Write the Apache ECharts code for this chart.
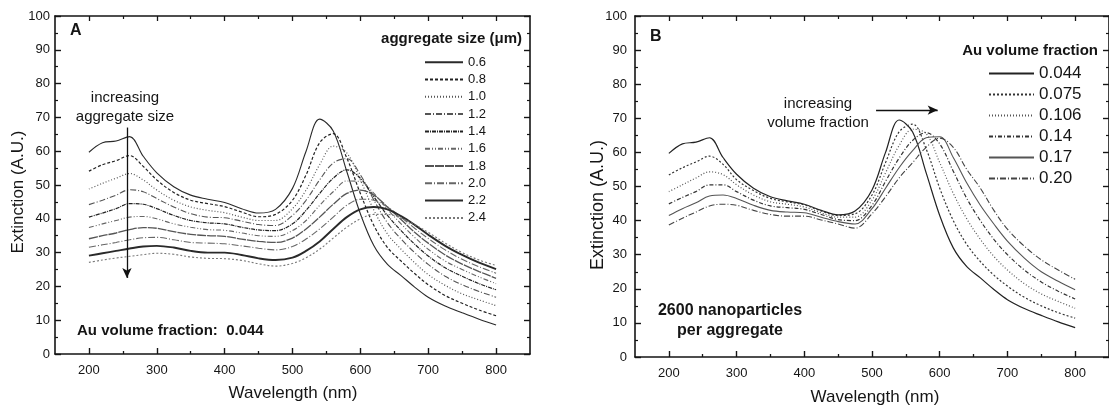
<!DOCTYPE html>
<html>
<head>
<meta charset="utf-8">
<script src="https://cdn.jsdelivr.net/npm/echarts@6/dist/echarts.min.js"></script>
<style>
html,body{margin:0;padding:0;background:#fff;}
#chart{width:1109px;height:405px;}
</style>
</head>
<body>
<div id="chart"></div>
<script>
// ---------- DATA ----------
const wavelength = [200,220,240,260,280,300,325,350,375,400,425,450,475,500,520,540,560,580,600,620,640,660,680,700,725,750,775,800];

// Panel A: aggregate size (um), Au volume fraction 0.044
const namesA = ['0.6','0.8','1.0','1.2','1.4','1.6','1.8','2.0','2.2','2.4'];
const a06 = [59.7,62.5,63.0,64.3,58.5,53.6,49.5,47.0,45.8,44.8,43.0,41.7,42.8,49.0,60.0,69.5,66.0,54.0,41.5,32.0,26.5,23.2,19.8,16.8,14.2,12.2,10.3,8.6];
const a08 = [54.1,56.0,57.2,58.7,55.5,51.5,47.8,45.5,44.5,43.6,42.0,40.6,41.3,45.5,53.0,62.5,65.2,58.0,47.5,38.0,31.5,27.5,23.8,20.5,17.3,15.0,13.0,11.3];
const a10 = [48.8,50.5,52.0,53.4,51.5,48.5,45.5,43.5,42.5,41.8,40.5,39.5,39.5,43.0,48.5,56.0,61.5,59.5,51.5,42.5,35.5,31.0,27.0,23.5,20.3,17.8,16.0,14.3];
const a12 = [44.2,45.5,47.0,48.6,48.0,46.0,43.5,41.5,40.5,40.3,39.3,38.3,38.0,41.0,45.5,51.5,56.5,57.8,53.0,45.5,38.8,34.0,30.0,26.5,23.0,20.5,18.5,16.8];
const a14 = [40.5,41.7,43.0,44.5,44.3,43.0,41.0,39.5,38.8,38.5,37.5,36.7,36.5,38.5,42.5,47.5,52.0,54.5,52.0,46.5,41.0,36.5,32.5,29.0,25.5,23.0,20.8,19.0];
const a16 = [37.4,38.5,39.5,40.5,40.7,40.0,38.5,37.5,36.8,36.6,35.8,35.0,34.8,36.5,39.5,44.0,48.0,51.2,51.0,47.5,42.8,38.5,34.5,31.0,27.5,25.0,22.8,20.8];
const a18 = [34.1,35.0,35.8,36.8,37.4,37.2,36.2,35.4,35.0,34.8,34.0,33.3,33.0,34.3,37.0,40.5,44.3,47.5,48.5,47.0,43.5,39.8,36.0,32.8,29.3,26.6,24.4,22.4];
const a20 = [31.6,32.3,33.0,33.8,34.4,34.5,33.8,33.0,32.8,32.6,32.0,31.3,30.8,31.8,34.0,37.0,40.5,44.0,45.8,45.5,43.5,40.5,37.2,34.2,30.8,28.0,25.8,23.9];
const a22 = [29.1,29.8,30.5,31.2,31.8,32.0,31.5,30.5,30.0,30.0,29.3,28.3,27.8,28.5,30.5,33.3,37.0,40.5,42.8,43.5,42.8,40.8,38.2,35.3,32.0,29.3,27.0,25.1];
const a24 = [27.1,27.8,28.4,28.9,29.4,29.8,29.5,28.7,28.3,28.2,27.7,26.7,26.0,26.8,28.5,31.0,34.3,37.5,40.0,41.3,41.3,40.2,38.3,36.0,32.8,30.0,27.8,26.2];

// Panel B: Au volume fraction, 2600 nanoparticles per aggregate
const namesB = ['0.044','0.075','0.106','0.14','0.17','0.20'];
const b0044 = [59.7,62.5,63.0,64.3,58.5,53.6,49.5,47.0,45.8,44.8,43.0,41.7,42.8,49.0,60.0,69.5,66.0,54.0,41.5,32.0,26.5,23.2,19.8,16.8,14.2,12.2,10.3,8.6];
const b0075 = [53.4,55.5,57.2,58.9,56.5,52.0,48.8,46.5,45.5,44.6,42.8,41.5,42.0,47.5,57.0,66.0,68.3,61.0,49.5,40.0,33.0,28.0,24.0,20.8,17.5,15.0,13.0,11.4];
const b0106 = [48.5,50.5,52.5,54.3,53.5,50.5,47.5,45.5,44.8,44.0,42.3,41.0,41.0,46.0,54.0,62.0,66.8,65.5,57.0,48.0,40.5,34.5,29.5,25.5,21.5,18.5,16.3,14.3];
const b014  = [44.9,46.8,48.5,50.5,50.5,48.5,46.0,44.3,43.8,43.3,41.8,40.3,40.0,44.5,51.5,58.3,63.5,65.8,62.5,54.5,46.5,40.0,34.5,30.0,25.5,22.0,19.3,17.0];
const b017  = [41.5,43.5,45.2,47.2,47.5,46.5,44.5,43.0,42.5,42.3,41.0,39.7,39.0,43.5,49.5,55.5,60.5,64.3,64.6,58.5,51.0,44.5,39.0,34.0,29.0,25.0,22.2,19.7];
const b020  = [38.7,40.7,42.5,44.3,44.8,44.5,43.0,41.8,41.3,41.3,40.2,39.0,37.8,42.0,47.0,52.5,57.0,61.5,64.2,61.5,55.0,49.5,43.0,37.5,32.5,28.5,25.5,22.8];

const xMajorTicks = [200,300,400,500,600,700,800];
const xMinorTicks = [250,350,450,550,650,750];

// annotation arrows (data coords)
const arrowA = [[256, 67], [256, 22.5]];
const arrowB = [[506, 72.4], [597, 72.4]];

// ---------- STYLE ----------
const FONT = 'Liberation Sans, Arial, Helvetica, sans-serif';
const INK = '#151515';
const stylesA = [
  {type:'solid', width:1.1, color:'#2a2a2a'},
  {type:[3,2], width:1.2, color:'#222'},
  {type:[1,2], width:1.2, color:'#555'},
  {type:[6,2,1,2], width:1.1, color:'#555'},
  {type:[4,1,1,1], width:1.2, color:'#222'},
  {type:[5,2,1,2,1,2], width:1.1, color:'#666'},
  {type:[9,1], width:1.3, color:'#555'},
  {type:[7,2,1,2], width:1.1, color:'#666'},
  {type:'solid', width:1.9, color:'#2a2a2a'},
  {type:[2,2], width:1.1, color:'#777'}
];
const stylesB = [
  {type:'solid', width:1.2, color:'#222'},
  {type:[2,2], width:1.2, color:'#333'},
  {type:[1,2], width:1.2, color:'#555'},
  {type:[4,2,1,2], width:1.2, color:'#333'},
  {type:'solid', width:1.1, color:'#555'},
  {type:[6,2,1,2], width:1.1, color:'#444'}
];
const valuesA = [a06,a08,a10,a12,a14,a16,a18,a20,a22,a24];
const valuesB = [b0044,b0075,b0106,b014,b017,b020];

function xAxesFor(g){
  const base = {gridIndex:g, type:'value', min:150, max:850, splitLine:{show:false}};
  return [
    Object.assign({}, base, {position:'bottom',
      axisLine:{onZero:false, lineStyle:{color:INK, width:1.6}},
      axisTick:{inside:true, length:6, customValues:xMajorTicks, lineStyle:{color:INK, width:1.4}},
      axisLabel:{customValues:xMajorTicks, fontSize:13, color:INK, fontFamily:FONT, margin:10}}),
    Object.assign({}, base, {position:'bottom',
      axisLine:{show:false, onZero:false},
      axisTick:{inside:true, length:3, customValues:xMinorTicks, lineStyle:{color:INK, width:1.3}},
      axisLabel:{show:false}}),
    Object.assign({}, base, {position:'top',
      axisLine:{onZero:false, lineStyle:{color:INK, width:1.6}},
      axisTick:{inside:true, length:5, customValues:xMajorTicks, lineStyle:{color:INK, width:1.3}},
      axisLabel:{show:false}}),
    Object.assign({}, base, {position:'top',
      axisLine:{show:false, onZero:false},
      axisTick:{inside:true, length:3, customValues:xMinorTicks, lineStyle:{color:INK, width:1.2}},
      axisLabel:{show:false}})
  ];
}
function yAxesFor(g, labelMargin){
  const base = {gridIndex:g, type:'value', min:0, max:100, interval:10, splitLine:{show:false},
    axisLine:{show:true, onZero:false, lineStyle:{color:INK, width:1.6}},
    axisTick:{show:true, inside:true, length:6, lineStyle:{color:INK, width:1.4}},
    minorTick:{show:true, splitNumber:2, length:3, lineStyle:{color:INK, width:1.2}}};
  return [
    Object.assign({}, base, {position:'left',
      axisLabel:{fontSize:13, color:INK, fontFamily:FONT, margin:labelMargin}}),
    Object.assign({}, base, {position:'right', axisLabel:{show:false}})
  ];
}

const series = [];
namesA.forEach((n,i)=>{
  series.push({name:n, type:'line', xAxisIndex:0, yAxisIndex:0, smooth:0.35, symbol:'none',
    data: wavelength.map((w,k)=>[w, valuesA[i][k]]), lineStyle: stylesA[i], itemStyle:{color:stylesA[i].color}});
});
namesB.forEach((n,i)=>{
  series.push({name:n, type:'line', xAxisIndex:4, yAxisIndex:2, smooth:0.35, symbol:'none',
    data: wavelength.map((w,k)=>[w, valuesB[i][k]]), lineStyle: stylesB[i], itemStyle:{color:stylesB[i].color}});
});
// arrows
series.push({name:'arrowA', type:'line', xAxisIndex:0, yAxisIndex:0, data:[], silent:true,
  markLine:{silent:true, symbol:['none','arrow'], symbolSize:[7,10], label:{show:false},
    lineStyle:{type:'solid', color:'#111', width:1.3}, animation:false,
    data:[[{coord:arrowA[0]},{coord:arrowA[1]}]]}});
series.push({name:'arrowB', type:'line', xAxisIndex:4, yAxisIndex:2, data:[], silent:true,
  markLine:{silent:true, symbol:['none','arrow'], symbolSize:[7,10], label:{show:false},
    lineStyle:{type:'solid', color:'#111', width:1.3}, animation:false,
    data:[[{coord:arrowB[0]},{coord:arrowB[1]}]]}});

function txt(x,y,text,font,align){
  return {type:'text', x:x, y:y, silent:true,
    style:{text:text, font:font, fill:INK, align:align||'left', verticalAlign:'middle'}};
}

const hiddenSymbol = {opacity:0, color:'transparent', borderColor:'transparent', borderWidth:0};

const option = {
  animation:false,
  backgroundColor:'#fff',
  grid:[
    {left:55, top:16, width:475, height:338},
    {left:635, top:16, width:479, height:341}
  ],
  xAxis: xAxesFor(0).concat(xAxesFor(1)),
  yAxis: yAxesFor(0,5).concat(yAxesFor(1,8)),
  legend:[
    {data:namesA, orient:'vertical', left:419, top:50.7, itemWidth:38, itemHeight:14, itemGap:4.3,
      selectedMode:false, itemStyle:hiddenSymbol, textStyle:{fontSize:13, color:INK, fontFamily:FONT}},
    {data:namesB, orient:'vertical', left:983, top:60, itemWidth:45, itemHeight:14, itemGap:4.0,
      selectedMode:false, itemStyle:hiddenSymbol, textStyle:{fontSize:17, color:INK, fontFamily:FONT}}
  ],
  series: series,
  graphic:[
    txt(70,31,'A','bold 16px '+FONT),
    txt(650,37,'B','bold 16px '+FONT),
    txt(522,39,'aggregate size (\u03bcm)','bold 15px '+FONT,'right'),
    txt(1098,51,'Au volume fraction','bold 15px '+FONT,'right'),
    txt(125,98,'increasing','15px '+FONT,'center'),
    txt(125,117,'aggregate size','15px '+FONT,'center'),
    txt(818,104,'increasing','15px '+FONT,'center'),
    txt(818,123,'volume fraction','15px '+FONT,'center'),
    txt(77,331,'Au volume fraction:  0.044','bold 15px '+FONT),
    txt(730,311,'2600 nanoparticles','bold 16px '+FONT,'center'),
    txt(730,331,'per aggregate','bold 16px '+FONT,'center'),
    txt(293,393,'Wavelength (nm)','17px '+FONT,'center'),
    txt(875,397,'Wavelength (nm)','17px '+FONT,'center'),
    Object.assign(txt(18,192,'Extinction (A.U.)','17px '+FONT,'center'),{rotation:Math.PI/2}),
    Object.assign(txt(598,205,'Extinction (A.U.)','18px '+FONT,'center'),{rotation:Math.PI/2})
  ]
};

const chart = echarts.init(document.getElementById('chart'), null, {renderer:'canvas'});
chart.setOption(option);
</script>
</body>
</html>
